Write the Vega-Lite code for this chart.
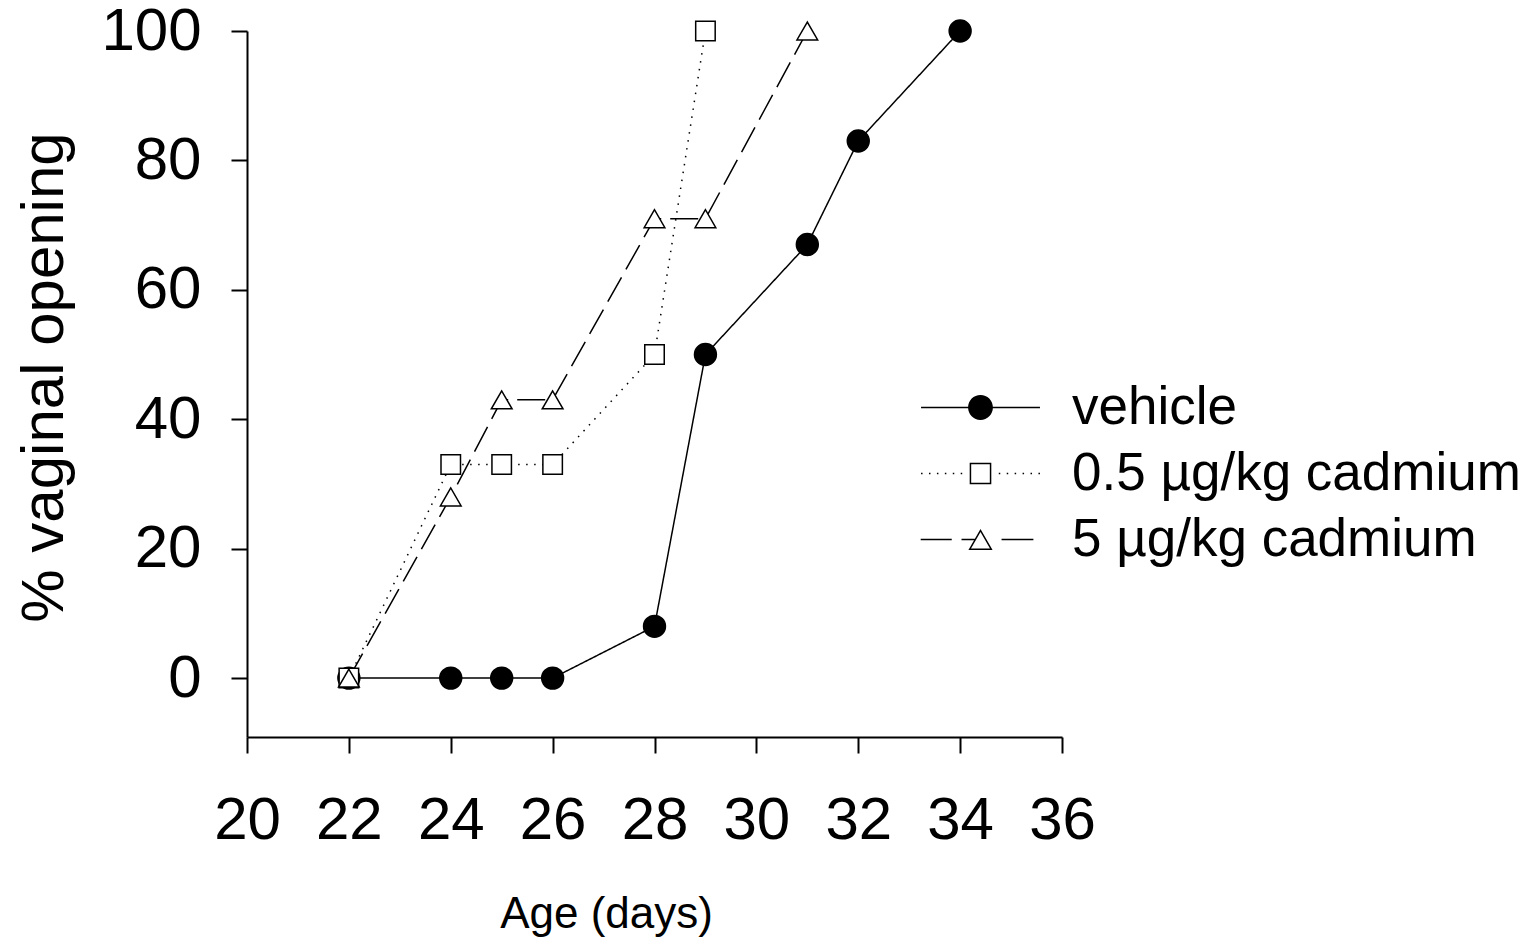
{
  "$schema": "https://vega.github.io/schema/vega-lite/v6.json",
  "width": 815,
  "height": 706,
  "autosize": "none",
  "padding": {"left": 247, "top": 31, "right": 468, "bottom": 208},
  "background": "white",
  "config": {
    "view": {"stroke": null},
    "font": "Liberation Sans",
    "axis": {
      "domainColor": "black",
      "domainWidth": 2,
      "tickColor": "black",
      "tickWidth": 2,
      "tickSize": 16,
      "grid": false,
      "labelFont": "Liberation Sans",
      "labelFontSize": 60,
      "labelColor": "black",
      "labelFlush": false,
      "labelOverlap": false,
      "titleFont": "Liberation Sans",
      "titleColor": "black",
      "titleFontWeight": "normal"
    }
  },
  "data": {
    "values": [
      {"series": "vehicle", "age": 22, "pct": 0},
      {"series": "vehicle", "age": 24, "pct": 0},
      {"series": "vehicle", "age": 25, "pct": 0},
      {"series": "vehicle", "age": 26, "pct": 0},
      {"series": "vehicle", "age": 28, "pct": 8},
      {"series": "vehicle", "age": 29, "pct": 50},
      {"series": "vehicle", "age": 31, "pct": 67},
      {"series": "vehicle", "age": 32, "pct": 83},
      {"series": "vehicle", "age": 34, "pct": 100},
      {"series": "0.5 µg/kg cadmium", "age": 22, "pct": 0},
      {"series": "0.5 µg/kg cadmium", "age": 24, "pct": 33},
      {"series": "0.5 µg/kg cadmium", "age": 25, "pct": 33},
      {"series": "0.5 µg/kg cadmium", "age": 26, "pct": 33},
      {"series": "0.5 µg/kg cadmium", "age": 28, "pct": 50},
      {"series": "0.5 µg/kg cadmium", "age": 29, "pct": 100},
      {"series": "5 µg/kg cadmium", "age": 22, "pct": 0},
      {"series": "5 µg/kg cadmium", "age": 24, "pct": 28},
      {"series": "5 µg/kg cadmium", "age": 25, "pct": 43},
      {"series": "5 µg/kg cadmium", "age": 26, "pct": 43},
      {"series": "5 µg/kg cadmium", "age": 28, "pct": 71},
      {"series": "5 µg/kg cadmium", "age": 29, "pct": 71},
      {"series": "5 µg/kg cadmium", "age": 31, "pct": 100}
    ]
  },
  "encoding": {
    "x": {
      "field": "age",
      "type": "quantitative",
      "scale": {"domain": [20, 36], "nice": false, "zero": false},
      "axis": {
        "values": [20, 22, 24, 26, 28, 30, 32, 34, 36],
        "title": "Age (days)",
        "labelPadding": 38,
        "titleFontSize": 44,
        "titleX": 359,
        "titleY": 190,
        "titleAlign": "center",
        "titleBaseline": "alphabetic"
      }
    },
    "y": {
      "field": "pct",
      "type": "quantitative",
      "scale": {"domain": [-9.1, 100], "nice": false, "zero": false},
      "axis": {
        "values": [0, 20, 40, 60, 80, 100],
        "title": "% vaginal opening",
        "labelPadding": 30,
        "titleFontSize": 60,
        "titleAngle": 270,
        "titleX": -185,
        "titleY": 346,
        "titleAlign": "center",
        "titleBaseline": "alphabetic"
      }
    }
  },
  "resolve": {
    "scale": {"shape": "independent", "fill": "independent", "size": "independent", "strokeDash": "independent"},
    "legend": {"shape": "independent", "fill": "independent", "size": "independent", "strokeDash": "independent"}
  },
  "layer": [
    {
      "mark": {"type": "line", "color": "black", "strokeWidth": 1.5},
      "encoding": {
        "strokeDash": {
          "field": "series",
          "type": "nominal",
          "scale": {"range": [[1.5, 6.5], [28, 9], [1, 0]]},
          "legend": null
        }
      }
    },
    {
      "mark": {"type": "point", "filled": true, "stroke": "black", "strokeWidth": 1.5, "opacity": 1},
      "encoding": {
        "shape": {
          "field": "series",
          "type": "nominal",
          "scale": {"range": ["square", "triangle-up", "circle"]},
          "legend": null
        },
        "size": {
          "field": "series",
          "type": "nominal",
          "scale": {"range": [380, 480, 500]},
          "legend": null
        },
        "fill": {
          "field": "series",
          "type": "nominal",
          "scale": {"range": ["white", "white", "black"]},
          "legend": null
        }
      }
    },
    {
      "transform": [{"filter": "false"}],
      "mark": {"type": "point", "filled": true, "fill": "black", "opacity": 1, "size": 529, "strokeWidth": 0},
      "encoding": {
        "shape": {
          "field": "series",
          "type": "nominal",
          "scale": {
            "domain": ["vehicle", "0.5 µg/kg cadmium", "5 µg/kg cadmium"],
            "range": [
              "M-5.17,-0.065H5.17V0.065H-5.17ZM1.08,0C1.08,0.6 0.6,1.08 0,1.08C-0.6,1.08 -1.08,0.6 -1.08,0C-1.08,-0.6 -0.6,-1.08 0,-1.08C0.6,-1.08 1.08,-0.6 1.08,0Z",
              "M-5.17,-0.065H-5.04V0.065H-5.17ZM-4.48,-0.065H-4.35V0.065H-4.48ZM-3.79,-0.065H-3.66V0.065H-3.79ZM-3.1,-0.065H-2.97V0.065H-3.1ZM-2.41,-0.065H-2.28V0.065H-2.41ZM-1.72,-0.065H-1.59V0.065H-1.72ZM1.59,-0.065H1.72V0.065H1.59ZM2.28,-0.065H2.41V0.065H2.28ZM2.97,-0.065H3.1V0.065H2.97ZM3.66,-0.065H3.79V0.065H3.66ZM4.35,-0.065H4.48V0.065H4.35ZM5.04,-0.065H5.17V0.065H5.04ZM-0.94,-0.94H0.94V0.94H-0.94ZM-0.81,-0.81V0.81H0.81V-0.81Z",
              "M-5.2,-0.065H-2.5V0.065H-5.2ZM-1.65,-0.065H-0.5V0.065H-1.65ZM1.83,-0.065H4.6V0.065H1.83ZM0,-0.92L1.05,0.92L-1.05,0.92ZM0,-0.658L-0.826,0.79L0.826,0.79Z"
            ]
          },
          "legend": {
            "orient": "none",
            "legendX": 707,
            "legendY": 350,
            "title": null,
            "padding": 0,
            "labelFont": "Liberation Sans",
            "labelFontSize": 53,
            "labelColor": "black",
            "labelLimit": 1000,
            "labelOffset": 65,
            "rowPadding": 12,
            "symbolSize": 529,
            "symbolFillColor": "black",
            "symbolStrokeColor": "black",
            "symbolStrokeWidth": 0,
            "symbolOpacity": 1
          }
        }
      }
    }
  ]
}
